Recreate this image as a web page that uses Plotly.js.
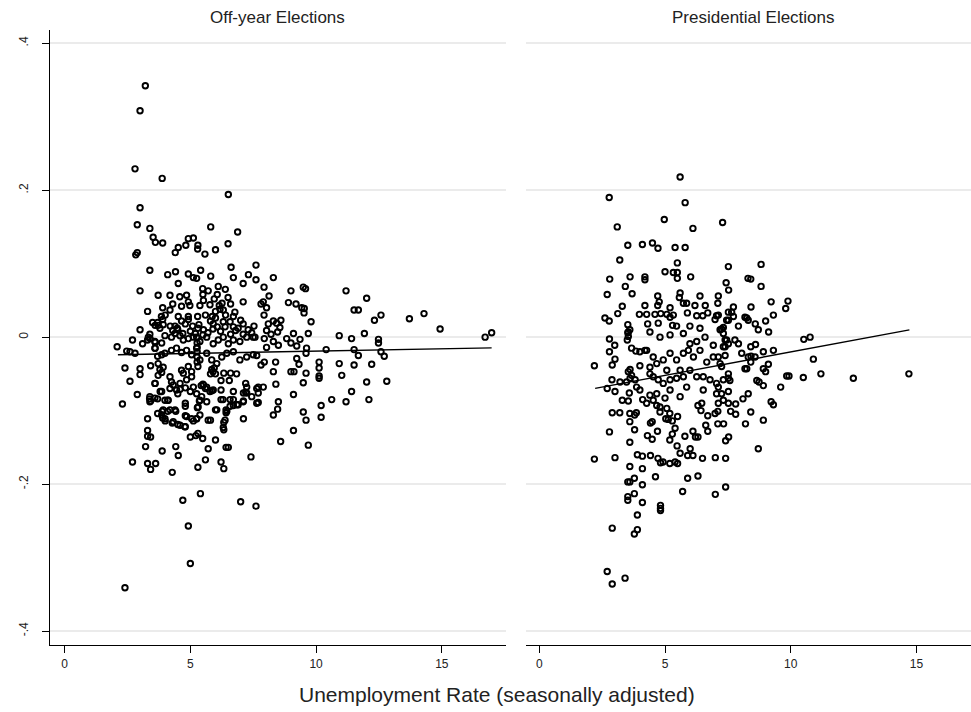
<!DOCTYPE html>
<html><head><meta charset="utf-8">
<script src="https://cdn.plot.ly/plotly-3.0.1.min.js"></script>
<style>html,body{margin:0;padding:0;background:#fff;} #chart{width:971px;height:712px;}</style>
</head><body><div id="chart"></div>
<script>
const panelTitles = ["Off-year Elections", "Presidential Elections"];
const xAxisTitle = "Unemployment Rate (seasonally adjusted)";
const yTickVals = [-0.4, -0.2, 0, 0.2, 0.4];
const yTickText = ["-.4", "-.2", "0", ".2", ".4"];
const xTickVals = [0, 5, 10, 15];

const offUnemp = [
 3.21,3.0,2.80,3.88,6.51,3.0,2.89,3.39,5.81,6.88,3.52,3.61,3.9,2.83,2.89,
 4.40,4.52,4.82,4.92,5.12,5.30,5.29,5.58,6.0,6.5,
 3.39,4.10,4.41,4.52,4.92,5.12,5.25,5.41,5.81,6.62,6.71,7.31,7.61,7.61,7.1,8.30,
 3.0,3.72,4.19,3.9,4.19,3.3,4.58,4.85,4.92,4.98,4.65,4.52,4.92,4.92,5.29,
 5.49,5.71,6.07,6.11,6.39,6.5,5.38,5.52,5.78,6.15,6.26,6.18,5.87,6.31,
 6.77,7.1,6.71,6.58,3.72,3.79,3.92,4.39,4.48,5.09,5.34,5.52,3.0,
 5.91,6.07,6.31,6.38,6.71,6.9,7.1,7.53,7.1,7.44,
 7.93,8.13,7.81,7.9,8.03,7.93,8.1,8.3,8.43,8.6,8.56,8.47,8.21,8.03,7.57,7.94,
 9.0,9.49,9.58,8.9,9.2,9.43,9.53,9.52,9.8,9.1,9.36,9.69,
 11.19,12.01,11.51,11.68,12.32,12.58,13.71,14.29,14.93,10.92,11.41,11.92,12.48,16.72,16.98,
 8.03,8.3,8.5,8.83,9.0,9.23,9.62,10.4,11.51,11.68,12.48,12.58,12.71,
 7.64,7.81,7.94,8.39,8.3,7.7,7.9,8.4,7.7,7.7,8.5,8.47,8.3,9.1,9.0,9.12,9.23,9.32,9.6,9.6,9.49,
 9.1,8.59,9.69,9.49,9.6,10.2,10.2,10.62,11.19,11.41,12.1,12.01,12.81,11.02,10.92,11.51,12.21,10.12,10.12,10.12,10.12,
 2.09,2.47,2.6,2.8,2.7,3.1,2.4,2.3,2.6,2.89,3.0,3.0,3.42,
 3.3,3.3,3.3,3.42,3.22,2.7,3.3,3.42,3.62,3.88,4.42,4.52,4.28,4.7,5.4,4.92,5.0,2.4,7.0,7.61,7.41,
 5.3,5.6,5.71,6.0,6.22,6.33,6.42,6.51,
 7.11,7.11,7.2,7.2,7.11,6.71,6.9,6.71,6.71,6.42,6.42,6.33,6.33,6.0,6.22,6.22,5.71,5.8,5.49,5.3,5.22,5.0,
 4.8,4.8,4.8,4.8,5.12,5.25,5.28,5.36,4.28,4.5,4.0,3.9,3.88,4.1,4.42,3.7,3.7,3.99,4.1,3.8,3.6,3.38,3.42,
 4.5,4.59,4.8,5.0,5.43,5.5,5.6,5.85,6.22,6.33,6.6,6.55,6.84,
 3.33,3.39,3.59,3.86,3.99,4.25,4.39,4.59,4.72,4.92,5.12,5.25,5.38,5.65,5.91,6.11,6.31,6.51,6.71,6.97,7.24,7.5,
 3.59,3.86,3.99,4.25,4.45,4.65,4.85,5.05,5.25,5.38,5.65,5.85,6.05,6.25,6.45,6.71,6.97,7.24,7.5,
 3.72,3.79,3.92,3.86,3.72,4.19,4.25,4.32,4.19,4.45,4.59,4.72,4.65,4.92,5.05,4.85,5.12,5.25,5.05,
 3.59,3.86,3.39,3.39,3.59,4.12,4.19,3.92,3.86,3.99,4.39,4.32,4.59,4.78,4.85,5.05,5.25,5.38,5.31,5.38,5.45,5.65,5.78,5.91,5.65,5.52,
 6.05,6.3,6.45,6.38,6.31,6.58,6.58,6.85,7.1,7.24,7.24,7.44,7.64,7.64,
 3.6,3.7,3.9,3.85,4.2,4.3,4.5,4.65,4.8,5.0,5.2,5.3,5.5,5.7,5.8,5.9,6.0,6.2,6.4,6.6,6.8,7.0,7.3,
 3.6,3.6,3.7,5.27,5.27,5.27,5.27,5.27,5.3,5.85,5.9,5.95,6.0,5.8,3.3,3.4,
 5.5,5.95,6.6,6.0,5.6,4.3,4.0,3.5,4.7
];
const offVote = [
 0.342,0.308,0.229,0.216,0.194,0.176,0.153,0.148,0.150,0.143,0.136,0.129,0.128,0.112,0.115,
 0.115,0.122,0.125,0.134,0.135,0.125,0.120,0.113,0.119,0.127,
 0.091,0.085,0.089,0.073,0.086,0.081,0.080,0.091,0.083,0.095,0.081,0.085,0.098,0.078,0.073,0.081,
 0.063,0.057,0.057,0.040,0.037,0.035,0.055,0.057,0.048,0.043,0.042,0.028,0.028,0.024,0.028,
 0.066,0.063,0.058,0.069,0.065,0.054,0.043,0.05,0.044,0.043,0.046,0.038,0.028,0.037,
 0.034,0.048,0.028,0.021,0.016,0.012,0.017,0.015,0.012,0.015,0.017,0.010,0.010,
 0.018,0.014,0.021,0.014,0.014,0.012,0.018,0.015,0.004,0.006,
 0.068,0.056,0.045,0.048,0.040,0.030,0.018,0.022,0.019,0.023,0.013,0.007,0.004,0.009,0.0,-0.002,
 0.063,0.068,0.066,0.047,0.045,0.040,0.039,0.033,0.021,0.005,-0.003,0.005,
 0.063,0.053,0.037,0.037,0.023,0.030,0.025,0.032,0.011,0.002,-0.002,0.005,-0.003,0.0,0.006,
 -0.014,-0.006,-0.011,-0.002,-0.008,-0.012,-0.015,-0.017,-0.017,-0.025,-0.008,-0.020,-0.026,
 -0.025,-0.038,-0.034,-0.034,-0.047,-0.068,-0.068,-0.064,-0.076,-0.089,-0.088,-0.098,-0.106,-0.078,-0.047,-0.047,-0.029,-0.037,-0.049,-0.022,-0.062,
 -0.127,-0.142,-0.147,-0.102,-0.113,-0.093,-0.109,-0.085,-0.088,-0.074,-0.085,-0.061,-0.060,-0.052,-0.036,-0.038,-0.037,-0.034,-0.042,-0.053,-0.056,
 -0.013,-0.019,-0.020,-0.022,-0.004,-0.009,-0.042,-0.091,-0.060,-0.078,-0.043,-0.051,-0.039,
 -0.111,-0.127,-0.135,-0.136,-0.149,-0.170,-0.172,-0.180,-0.172,-0.155,-0.149,-0.161,-0.184,-0.222,-0.213,-0.257,-0.308,-0.341,-0.224,-0.230,-0.163,
 -0.177,-0.167,-0.152,-0.140,-0.170,-0.179,-0.150,-0.150,
 -0.111,-0.087,-0.063,-0.075,-0.076,-0.093,-0.092,-0.085,-0.074,-0.099,-0.103,-0.116,-0.126,-0.099,-0.085,-0.072,-0.113,-0.113,-0.138,-0.131,-0.134,-0.136,
 -0.122,-0.107,-0.094,-0.090,-0.114,-0.111,-0.096,-0.087,-0.117,-0.119,-0.114,-0.110,-0.101,-0.101,-0.101,-0.104,-0.084,-0.086,-0.086,-0.074,-0.063,-0.084,-0.087,
 -0.077,-0.071,-0.069,-0.074,-0.066,-0.064,-0.070,-0.073,-0.059,-0.049,-0.049,-0.059,-0.050,
 0.0,0.004,-0.006,-0.008,0.002,0.0,0.005,0.002,-0.004,-0.002,0.0,0.0,-0.006,0.0,-0.009,-0.004,0.0,-0.009,-0.004,-0.006,0.0,0.0,
 -0.015,-0.024,-0.022,-0.018,-0.015,-0.021,-0.018,-0.024,-0.015,-0.031,-0.022,-0.031,-0.036,-0.027,-0.022,-0.020,-0.031,-0.027,-0.024,
 -0.036,-0.044,-0.041,-0.048,-0.052,-0.054,-0.061,-0.065,-0.070,-0.072,-0.063,-0.049,-0.045,-0.040,-0.047,-0.058,-0.068,-0.077,-0.054,
 -0.063,-0.074,-0.081,-0.088,-0.083,-0.086,-0.099,-0.099,-0.106,-0.111,-0.099,-0.115,-0.120,-0.122,-0.108,-0.111,-0.111,-0.106,-0.095,-0.086,-0.081,-0.088,-0.074,-0.072,-0.068,-0.065,
 -0.099,-0.085,-0.101,-0.113,-0.123,-0.085,-0.094,-0.092,-0.088,-0.068,-0.076,-0.081,-0.070,-0.090,
 0.016,0.020,0.024,0.028,0.015,0.009,0.010,0.022,0.018,0.008,0.005,0.012,0.003,0.006,0.022,0.011,0.026,0.008,0.030,0.004,0.009,0.023,0.010,
 -0.007,-0.015,-0.026,-0.008,-0.014,-0.020,-0.027,-0.034,-0.040,-0.044,-0.047,-0.042,-0.050,-0.050,-0.004,-0.002,
 0.058,0.052,0.045,0.035,0.030,0.045,0.030,0.020,0.005
];

const presUnemp = [
 5.60,2.78,5.80,4.97,7.29,3.10,6.11,
 3.52,4.10,4.50,4.72,5.40,5.80,
 3.2,5.49,7.52,8.82,
 2.80,3.61,4.2,4.2,5.0,5.33,5.49,5.49,6.02,8.3,8.41,
 7.43,7.53,8.82,
 3.42,3.69,2.7,3.3,3.12,2.61,2.78,
 4.71,4.77,4.71,4.2,5.2,5.6,5.57,5.73,5.86,6.19,6.39,6.6,7.12,7.1,7.52,
 3.98,4.27,4.6,4.83,5.07,5.2,5.33,5.89,6.26,6.5,6.7,7.05,6.99,7.45,4.31,4.73,5.3,5.46,5.99,6.39,7.25,7.32,3.54,4.4,
 3.52,3.52,3.6,
 9.22,9.89,9.80,9.31,9.0,9.12,8.71,8.59,8.42,8.31,8.18,
 10.52,10.77,10.9,2.79,3.0,
 11.2,12.49,14.7,10.5,9.84,9.93,9.6,9.31,8.91,9.11,9.0,8.91,8.58,8.41,8.6,9.22,9.31,8.91,8.71,8.2,8.41,8.31,
 8.1,7.81,7.61,7.52,7.81,8.65,8.74,8.91,8.42,
 2.19,2.19,2.79,3.01,2.9,2.79,3.01,2.9,2.7,2.9,3.41,
 3.6,3.79,3.6,3.6,4.1,3.9,4.1,4.42,4.72,4.82,4.92,5.19,5.4,5.5,
 3.78,3.52,3.6,4.1,3.78,3.52,3.52,4.1,3.9,3.9,3.78,
 4.82,4.82,4.82,4.62,5.7,5.9,6.31,7.0,7.41,7.0,7.41,6.49,5.9,6.11,5.6,6.0,5.48,
 7.1,7.33,7.41,7.53,
 6.62,6.7,6.11,6.21,6.31,5.79,5.19,5.29,4.49,4.3,4.7,
 4.42,4.49,3.6,3.79,3.86,3.2,2.9,
 4.8,5.03,5.13,5.29,5.4,5.5,5.19,7.1,6.7,6.43,6.31,
 2.89,3.01,2.7,3.3,3.54,
 3.21,3.47,3.61,3.81,3.58,3.87,4.0,4.11,4.27,4.4,4.53,4.67,
 3.54,3.5,3.67,3.84,4.0,4.2,4.0,3.61,3.54,3.67,
 4.8,5.2,5.73,5.99,6.26,6.59,6.92,7.32,7.45,
 4.4,4.53,4.73,4.93,5.2,5.46,5.73,5.99,6.26,6.52,6.79,7.05,7.32,7.52,
 4.27,4.53,4.67,4.93,5.2,5.46,5.73,5.93,6.13,6.39,6.66,6.92,7.19,7.39,4.4,5.07,5.6,5.2,5.6,4.67,5.0,4.8,5.07,6.52,7.05,7.32,5.86,6.46,
 7.12,7.72,7.65,7.52,7.92,7.72,8.25,7.32,7.19,
 8.25,8.18,8.41,8.31,8.05,7.92,7.78,7.52,7.39,7.39,7.12,7.25,7.52,7.58,7.12,7.25,7.12,7.52,6.99
];
const presVote = [
 0.218,0.190,0.183,0.160,0.156,0.150,0.148,
 0.125,0.126,0.128,0.121,0.122,0.122,
 0.105,0.101,0.096,0.099,
 0.079,0.082,0.082,0.078,0.089,0.088,0.088,0.080,0.082,0.080,0.079,
 0.074,0.064,0.069,
 0.069,0.059,0.058,0.042,0.032,0.026,0.022,
 0.056,0.048,0.043,0.043,0.040,0.060,0.054,0.046,0.046,0.043,0.056,0.043,0.056,0.046,0.034,
 0.031,0.031,0.031,0.032,0.031,0.027,0.030,0.033,0.029,0.029,0.033,0.029,0.024,0.023,0.018,0.019,0.016,0.015,0.015,0.012,0.011,0.005,0.007,0.007,
 0.017,0.006,0.010,
 0.048,0.049,0.039,0.030,0.022,0.007,0.010,0.018,0.041,0.023,0.027,
 -0.003,0.0,-0.030,-0.0025,-0.011,
 -0.050,-0.056,-0.050,-0.055,-0.053,-0.053,-0.068,-0.018,-0.020,-0.037,-0.047,-0.043,-0.027,-0.013,-0.010,-0.088,-0.092,-0.113,-0.152,-0.118,-0.102,-0.077,
 -0.084,-0.105,-0.101,-0.090,-0.091,-0.059,-0.061,-0.066,-0.026,
 -0.039,-0.166,-0.020,-0.030,-0.038,-0.129,-0.164,-0.260,-0.319,-0.336,-0.328,
 -0.143,-0.126,-0.115,-0.176,-0.179,-0.160,-0.162,-0.161,-0.165,-0.171,-0.170,-0.172,-0.170,-0.172,
 -0.192,-0.197,-0.197,-0.201,-0.213,-0.217,-0.222,-0.225,-0.242,-0.262,-0.268,
 -0.229,-0.233,-0.236,-0.190,-0.210,-0.192,-0.189,-0.214,-0.204,-0.164,-0.165,-0.165,-0.161,-0.161,-0.158,-0.152,-0.148,
 -0.118,-0.118,-0.141,-0.136,
 -0.120,-0.128,-0.128,-0.136,-0.136,-0.135,-0.140,-0.132,-0.139,-0.134,-0.128,
 -0.117,-0.115,-0.104,-0.106,-0.103,-0.103,-0.103,
 -0.102,-0.111,-0.112,-0.114,-0.124,-0.108,-0.104,-0.101,-0.107,-0.100,-0.093,
 -0.058,-0.074,-0.070,-0.086,-0.087,
 -0.061,-0.061,-0.056,-0.058,-0.076,-0.068,-0.072,-0.085,-0.090,-0.079,-0.086,-0.093,
 0.001,-0.004,-0.015,-0.019,-0.020,-0.018,-0.039,-0.044,-0.047,-0.052,
 0.0,0.003,0.005,-0.009,-0.006,0.0,-0.011,-0.013,-0.004,
 -0.050,-0.054,-0.058,-0.063,-0.058,-0.056,-0.054,-0.045,-0.054,-0.054,-0.058,-0.063,-0.058,-0.056,
 -0.018,-0.027,-0.036,-0.031,-0.022,-0.031,-0.022,-0.018,-0.027,-0.018,-0.034,-0.027,-0.036,-0.025,-0.041,-0.045,-0.045,-0.072,-0.081,-0.077,-0.083,-0.095,-0.097,-0.072,-0.077,-0.086,-0.068,-0.090,
 0.030,0.041,0.034,0.023,0.015,0.028,0.026,0.013,0.010,
 -0.043,-0.043,-0.034,-0.027,-0.022,-0.009,-0.004,-0.009,-0.013,-0.004,-0.027,-0.040,-0.050,-0.059,-0.068,-0.077,-0.090,-0.074,-0.104
];

// fitted regression lines (endpoints)
const offFitX = [2.12, 16.98];
const offFitY = [-0.024, -0.0146];
const presFitX = [2.22, 14.72];
const presFitY = [-0.0698, 0.0099];

if (offUnemp.length !== offVote.length || presUnemp.length !== presVote.length) {
  console.error('length mismatch', offUnemp.length, offVote.length, presUnemp.length, presVote.length);
}

const FONT = 'Liberation Sans, Arial, Helvetica, sans-serif';
const markerStyle = {symbol: 'circle-open', size: 5.5, color: '#000', line: {color: '#000', width: 1.9}};
const lineStyle = {color: '#000', width: 1.4};

const traces = [
  {type: 'scatter', mode: 'markers', x: offUnemp, y: offVote, xaxis: 'x', yaxis: 'y', marker: markerStyle, hoverinfo: 'skip'},
  {type: 'scatter', mode: 'lines', x: offFitX, y: offFitY, xaxis: 'x', yaxis: 'y', line: lineStyle, hoverinfo: 'skip'},
  {type: 'scatter', mode: 'markers', x: presUnemp, y: presVote, xaxis: 'x2', yaxis: 'y2', marker: markerStyle, hoverinfo: 'skip'},
  {type: 'scatter', mode: 'lines', x: presFitX, y: presFitY, xaxis: 'x2', yaxis: 'y2', line: lineStyle, hoverinfo: 'skip'}
];

const xCommon = {
  tickvals: xTickVals, ticks: 'outside', ticklen: 7, tickwidth: 1, tickcolor: '#000',
  showline: true, linecolor: '#000', linewidth: 1.2, showgrid: false, zeroline: false,
  tickfont: {family: FONT, size: 12, color: '#222'}, fixedrange: true
};
const yRange = [-0.419, 0.418];
const yDomain = [0.0941, 0.9579];

const layout = {
  width: 971, height: 712,
  margin: {l: 0, r: 0, t: 0, b: 0},
  paper_bgcolor: '#fff', plot_bgcolor: '#fff',
  showlegend: false, hovermode: false,
  font: {family: FONT, color: '#222'},
  xaxis: Object.assign({}, xCommon, {domain: [0.0515, 0.5211], range: [-0.58, 17.55], anchor: 'y'}),
  xaxis2: Object.assign({}, xCommon, {domain: [0.5417, 1], range: [-0.53, 17.17], anchor: 'y2'}),
  yaxis: {
    domain: yDomain, range: yRange, anchor: 'x',
    tickvals: yTickVals, ticktext: yTickText, tickangle: -90,
    ticks: 'outside', ticklen: 7, tickwidth: 1, tickcolor: '#000', ticklabelstandoff: 9,
    showline: true, linecolor: '#000', linewidth: 1.2,
    showgrid: true, gridcolor: '#ebebeb', gridwidth: 1.5, zeroline: false,
    tickfont: {family: FONT, size: 12, color: '#222'}, fixedrange: true
  },
  yaxis2: {
    domain: yDomain, range: yRange, anchor: 'x2',
    tickvals: yTickVals, showticklabels: false, ticks: '',
    showline: false, showgrid: true, gridcolor: '#ebebeb', gridwidth: 1.5, zeroline: false, fixedrange: true
  },
  annotations: [
    {text: panelTitles[0], xref: 'paper', yref: 'paper', x: 0.2863, y: 0.975, xanchor: 'center', yanchor: 'middle', showarrow: false, font: {family: FONT, size: 17, color: '#222'}},
    {text: panelTitles[1], xref: 'paper', yref: 'paper', x: 0.7765, y: 0.975, xanchor: 'center', yanchor: 'middle', showarrow: false, font: {family: FONT, size: 17, color: '#222'}},
    {text: xAxisTitle, xref: 'paper', yref: 'paper', x: 0.512, y: 0.024, xanchor: 'center', yanchor: 'middle', showarrow: false, font: {family: FONT, size: 21, color: '#222'}}
  ]
};

Plotly.newPlot('chart', traces, layout, {staticPlot: true, displayModeBar: false});
</script>
</body></html>
